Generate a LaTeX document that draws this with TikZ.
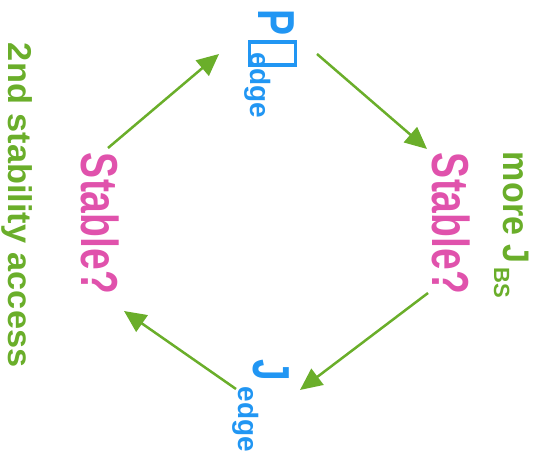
\documentclass[tikz,border=0pt]{standalone}
\usepackage{graphicx}
\usepackage{fontspec}
\setmainfont{Liberation Sans}
\usetikzlibrary{arrows.meta}
\definecolor{eblue}{RGB}{33,150,243}
\definecolor{epink}{RGB}{224,82,172}
\definecolor{egreen}{RGB}{106,174,42}
\tikzset{
  lbl/.style={inner sep=0pt, outer sep=0pt, rotate=-90, anchor=base west, font=\bfseries},
  big/.style={lbl},
  cyc/.style={draw=egreen, line width=2.5pt, -{Triangle[length=22pt,width=20pt]}},
}
\newcommand{\bigtxt}[1]{\fontsize{52}{52}\selectfont\scalebox{0.75}[1]{#1}}
\begin{document}
\begin{tikzpicture}[x=1pt,y=1pt]
\useasboundingbox (0,0) rectangle (545,454);
% texts
\node[big, text=epink] (stL) at (81,301) {\bigtxt{Stable?}};
\node[big, text=epink] (stR) at (432,301) {\bigtxt{Stable?}};
\node[big, text=eblue] (pP) at (258,444) {\bigtxt{P}};
\draw[eblue, line width=3.5pt] (249.5,412) rectangle (295.5,389);
\node[lbl, text=eblue] (pE) at (250,401) {\fontsize{28}{28}\selectfont edge};
\node[big, text=eblue] (jJ) at (253,94) {\bigtxt{J}};
\node[lbl, text=eblue] (jE) at (238,67) {\fontsize{28}{28}\selectfont edge};
\node[lbl, text=egreen] (mJ) at (503,302) {\fontsize{37}{37}\selectfont\scalebox{0.92}[1]{more J}};
\node[lbl, text=egreen] (bs) at (494,186) {\fontsize{22}{22}\selectfont BS};
\node[lbl, text=egreen] (acc) at (9,411) {\fontsize{33}{33}\selectfont\scalebox{1.04}[1]{2nd stability access}};
% arrows
\coordinate (a1s) at (108,306); \coordinate (a1e) at (219,400);
\coordinate (a2s) at (317,400); \coordinate (a2e) at (427,305);
\coordinate (a3s) at (428,161); \coordinate (a3e) at (300,64);
\coordinate (a4s) at (236,65);  \coordinate (a4e) at (124,143);
\draw[cyc] (a1s) -- (a1e);
\draw[cyc] (a2s) -- (a2e);
\draw[cyc] (a3s) -- (a3e);
\draw[cyc] (a4s) -- (a4e);
\end{tikzpicture}
\end{document}
